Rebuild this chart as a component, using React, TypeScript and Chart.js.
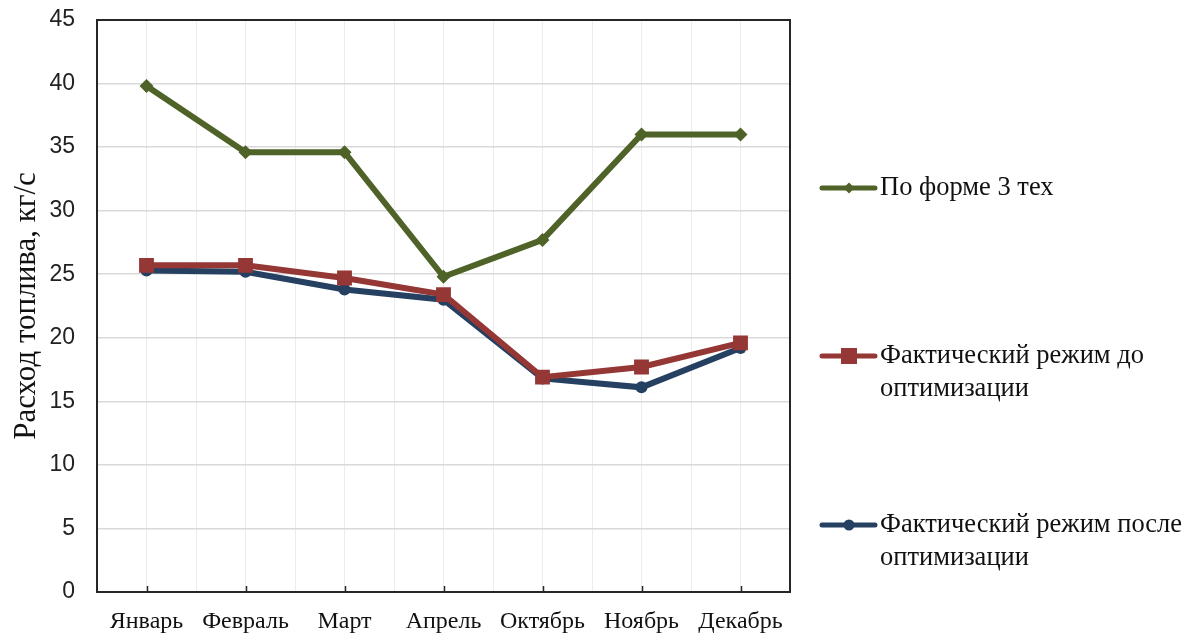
import React, { useEffect, useRef } from "react";
import { Chart, registerables } from "chart.js";

Chart.register(...registerables);

const months = ["Январь", "Февраль", "Март", "Апрель", "Октябрь", "Ноябрь", "Декабрь"];
const byForm3Tech = [39.8, 34.6, 34.6, 24.8, 27.7, 36.0, 36.0];
const beforeOpt = [25.7, 25.7, 24.7, 23.4, 16.9, 17.7, 19.6];
const afterOpt = [25.3, 25.2, 23.8, 23.0, 16.8, 16.1, 19.2];
const seriesNames = [
  ["По форме 3 тех"],
  ["Фактический режим до", "оптимизации"],
  ["Фактический режим после", "оптимизации"],
];
const yTitle = "Расход топлива, кг/с";

const GREEN = "#4f6228";
const RED = "#953735";
const BLUE = "#254061";

const serif = "'Liberation Serif', 'Times New Roman', serif";
const sans = "'Liberation Sans', Arial, sans-serif";

function drawMarker(ctx: CanvasRenderingContext2D, style: string, x: number, y: number, r: number, color: string) {
  ctx.save();
  ctx.fillStyle = color;
  ctx.beginPath();
  if (style === "rectRot") {
    ctx.moveTo(x, y - r);
    ctx.lineTo(x + r, y);
    ctx.lineTo(x, y + r);
    ctx.lineTo(x - r, y);
    ctx.closePath();
  } else if (style === "rect") {
    ctx.rect(x - r, y - r, 2 * r, 2 * r);
  } else {
    ctx.arc(x, y, r, 0, Math.PI * 2);
  }
  ctx.fill();
  ctx.restore();
}

const framePlugin = {
  id: "frame",
  afterDatasetsDraw(chart: any) {
    const { ctx, chartArea } = chart;
    ctx.save();
    ctx.strokeStyle = "#262626";
    ctx.lineWidth = 2;
    ctx.strokeRect(chartArea.left, chartArea.top, chartArea.right - chartArea.left, chartArea.bottom - chartArea.top);
    const xs = chart.scales.x;
    ctx.lineWidth = 1.5;
    for (let i = 0; i < xs.ticks.length; i++) {
      const px = Math.round(xs.getPixelForTick(i)) + 0.5;
      ctx.beginPath();
      ctx.moveTo(px, chartArea.bottom - 6);
      ctx.lineTo(px, chartArea.bottom);
      ctx.stroke();
    }
    ctx.restore();
  },
  afterDraw(chart: any) {
    const { ctx } = chart;
    const ys = [188, 356, 525];
    const styles = ["rectRot", "rect", "circle"];
    const radii = [5.5, 8, 5.5];
    ctx.save();
    ctx.font = `26.5px ${serif}`;
    ctx.textBaseline = "middle";
    ctx.textAlign = "left";
    chart.data.datasets.forEach((ds: any, i: number) => {
      const y = ys[i];
      ctx.strokeStyle = ds.borderColor;
      ctx.lineWidth = 5;
      ctx.lineCap = "round";
      ctx.beginPath();
      ctx.moveTo(822, y);
      ctx.lineTo(875, y);
      ctx.stroke();
      drawMarker(ctx, styles[i], 849, y, radii[i], ds.borderColor);
      ctx.fillStyle = "#111";
      seriesNames[i].forEach((line, j) => {
        ctx.fillText(line, 880, y + j * 33);
      });
    });
    ctx.restore();
  },
};

export default function App() {
  const ref = useRef<HTMLCanvasElement | null>(null);
  useEffect(() => {
    if (!ref.current) return;
    const chart = new Chart(ref.current, {
      type: "line",
      data: {
        labels: months,
        datasets: [
          {
            label: seriesNames[0].join(" "),
            data: byForm3Tech,
            borderColor: GREEN,
            backgroundColor: GREEN,
            borderWidth: 6,
            pointStyle: "rectRot",
            pointRadius: 7,
            pointBorderWidth: 0,
          },
          {
            label: seriesNames[1].join(" "),
            data: beforeOpt,
            borderColor: RED,
            backgroundColor: RED,
            borderWidth: 6,
            pointStyle: "rect",
            pointRadius: 10.5,
            pointBorderWidth: 0,
          },
          {
            label: seriesNames[2].join(" "),
            data: afterOpt,
            borderColor: BLUE,
            backgroundColor: BLUE,
            borderWidth: 6,
            pointStyle: "circle",
            pointRadius: 6,
            pointBorderWidth: 0,
          },
        ],
      },
      options: {
        animation: false,
        responsive: false,
        maintainAspectRatio: false,
        layout: { padding: { top: 20, right: 407, left: 0, bottom: 0 } },
        plugins: { legend: { display: false }, tooltip: { enabled: false } },
        scales: {
          x: {
            type: "category",
            offset: true,
            grid: { display: true, offset: false, color: "#ececec", lineWidth: 1, drawTicks: false },
            border: { display: false },
            ticks: { color: "#111", font: { family: serif, size: 24 }, padding: 15, maxRotation: 0, autoSkip: false },
            afterFit: (s: any) => { s.height = 42; s.paddingLeft = 0; s.paddingRight = 0; },
          },
          x2: {
            type: "category",
            labels: months,
            offset: true,
            position: "bottom",
            grid: { display: true, offset: true, color: "#ececec", lineWidth: 1, drawTicks: false },
            border: { display: false },
            ticks: { display: false },
            afterFit: (s: any) => { s.height = 0; s.paddingLeft = 0; s.paddingRight = 0; },
          },
          y: {
            min: 0,
            max: 45,
            ticks: { stepSize: 5, color: "#222", font: { family: sans, size: 23 }, padding: 22 },
            grid: { color: "#d9d9d9", lineWidth: 1.5, drawTicks: false },
            border: { display: false },
            title: { display: true, text: yTitle, color: "#111", font: { family: serif, size: 31 }, padding: { top: 8, bottom: 0 } },
            afterFit: (s: any) => { s.width = 97; s.paddingTop = 0; s.paddingBottom = 0; },
          },
        },
      },
      plugins: [framePlugin],
    });
    return () => chart.destroy();
  }, []);
  return (
    <div style={{ position: "fixed", left: 0, top: 0, width: 1197, height: 634, background: "#fff" }}>
      <canvas ref={ref} width={1197} height={634} style={{ width: 1197, height: 634 }} />
    </div>
  );
}
